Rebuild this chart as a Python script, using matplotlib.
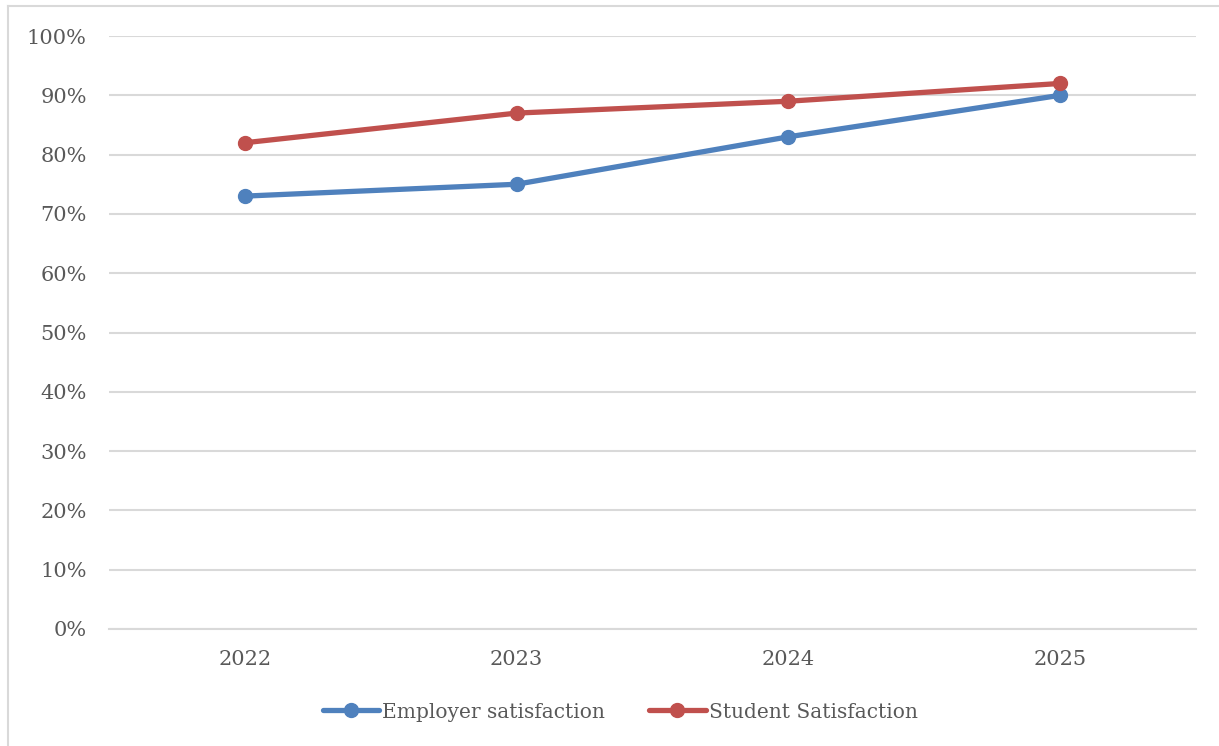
import matplotlib
matplotlib.use("Agg")
import matplotlib.pyplot as plt
from matplotlib.lines import Line2D
from matplotlib.ticker import FuncFormatter

years = ["2022", "2023", "2024", "2025"]
employer = [0.73, 0.75, 0.83, 0.90]
student = [0.82, 0.87, 0.89, 0.92]
series_names = ["Employer satisfaction", "Student Satisfaction"]
colors = ["#4F81BD", "#C0504D"]

plt.rcParams["font.family"] = ["DejaVu Serif"]
text_color = "#595959"
grid_color = "#D9D9D9"

fig = plt.figure(figsize=(12.19, 7.46), dpi=100)
ax = fig.add_axes([109 / 1219, 1 - 629 / 746, (1196 - 109) / 1219, (629 - 36) / 746])

x = list(range(len(years)))
for vals, name, c in zip([employer, student], series_names, colors):
    ax.plot(x, vals, color=c, lw=3.8, marker="o", ms=10, label=name,
            solid_capstyle="round", zorder=3)

ax.set_xlim(-0.5, len(years) - 0.5)
ax.set_ylim(0, 1.0)
ax.set_yticks([i / 10 for i in range(11)])
ax.yaxis.set_major_formatter(FuncFormatter(lambda v, p: f"{v * 100:.0f}%"))
ax.set_xticks(x)
ax.set_xticklabels(years)

ax.grid(axis="y", color=grid_color, lw=1.5)
ax.set_axisbelow(True)
for s in ["top", "right", "left"]:
    ax.spines[s].set_visible(False)
ax.spines["bottom"].set_color(grid_color)
ax.spines["bottom"].set_linewidth(1.5)
ax.tick_params(axis="both", length=0, colors=text_color, labelsize=15)
ax.tick_params(axis="y", pad=16)
ax.tick_params(axis="x", pad=15)

handles = [Line2D([0], [0], color=c, lw=3.8, marker="o", ms=10, solid_capstyle="round")
           for c in colors]
fig.legend(handles, series_names, loc="center", bbox_to_anchor=(620 / 1219, 1 - 712 / 746),
           ncol=2, frameon=False, fontsize=14.5, labelcolor=text_color,
           handlelength=2.8, handletextpad=0.15, columnspacing=2.2)

# chart frame
fig.add_artist(Line2D([8 / 1219, 8 / 1219], [0, 1 - 6 / 746], transform=fig.transFigure,
                      color="#D9D9D9", lw=1.5))
fig.add_artist(Line2D([8 / 1219, 1], [1 - 6 / 746, 1 - 6 / 746], transform=fig.transFigure,
                      color="#D9D9D9", lw=1.5))

fig.savefig("out.png", dpi=100)
